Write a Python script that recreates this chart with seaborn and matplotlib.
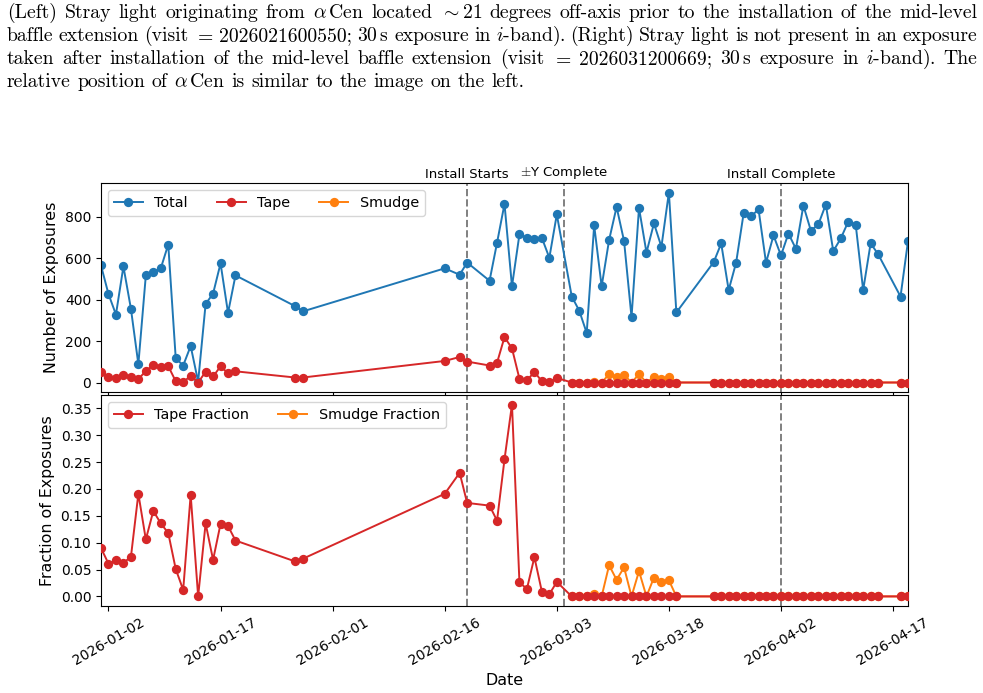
import matplotlib
matplotlib.use("Agg")
import matplotlib.pyplot as plt
import matplotlib.dates as mdates
from matplotlib.ticker import MultipleLocator
import pandas as pd
import seaborn as sns

# observation days per month (2026)
jan_days = [1, 2, 3, 4, 5, 6, 7, 8, 9, 10, 11, 12, 13, 14, 15, 16, 17, 18, 19, 27, 28]
feb_days = [16, 18, 19, 22, 23, 24, 25, 26, 27, 28]
mar_days = [1, 2, 3, 5, 6, 7, 8, 9, 10, 11, 12, 13, 14, 15, 16, 17, 18, 19,
            24, 25, 26, 27, 28, 29, 30, 31]
apr_days = [1, 2, 3, 4, 5, 6, 7, 8, 9, 10, 11, 12, 13, 14, 15, 18, 19]

total_exp = [565, 427, 328, 560, 357, 88, 517, 533, 551, 666, 117, 82, 176, 4, 379, 429, 575, 336, 517, 368, 343,
             551, 520, 579, 491, 674, 862, 464, 715, 698, 694,
             698, 602, 811, 415, 347, 239, 758, 464, 688, 847, 683, 315, 843, 627, 768, 655, 917, 338,
             581, 671, 446, 579, 816, 803, 835, 578,
             710, 613, 719, 645, 854, 733, 763, 859, 634, 695, 776, 762, 446, 672, 619, 415, 682]

tape_exp = [51, 26, 22, 35, 26, 17, 55, 85, 75, 79, 6, 1, 33, 0, 52, 29, 78, 44, 54, 24, 24,
            104, 123, 101, 82, 95, 219, 165, 18, 10, 51,
            6, 2, 22, 0, 0, 0, 0, 0, 0, 0, 0, 0, 0, 0, 0, 0, 0, 0,
            0, 0, 0, 0, 0, 0, 0, 0,
            0, 0, 0, 0, 0, 0, 0, 0, 0, 0, 0, 0, 0, 0, 0, 0, 0]

tape_frac = [0.090, 0.061, 0.067, 0.063, 0.073, 0.191, 0.106, 0.159, 0.136, 0.118, 0.051, 0.012, 0.189,
             0.000, 0.136, 0.068, 0.135, 0.131, 0.104, 0.065, 0.070,
             0.191, 0.230, 0.174, 0.169, 0.141, 0.255, 0.357, 0.026, 0.014, 0.073,
             0.009, 0.004, 0.027, 0, 0, 0, 0, 0, 0, 0, 0, 0, 0, 0, 0, 0, 0, 0,
             0, 0, 0, 0, 0, 0, 0, 0,
             0, 0, 0, 0, 0, 0, 0, 0, 0, 0, 0, 0, 0, 0, 0, 0, 0]

# smudge is only tracked from 2026-03-05 on (last 40 observation days)
smudge_exp = [0, 0, 0, 3, 0, 40, 26, 37, 0, 40, 0, 27, 18, 28, 0,
              0, 0, 0, 0, 0, 0, 0, 0,
              0, 0, 0, 0, 0, 0, 0, 0, 0, 0, 0, 0, 0, 0, 0, 0, 0]
smudge_frac = [0, 0, 0, 0.004, 0, 0.058, 0.031, 0.054, 0, 0.047, 0, 0.035, 0.027, 0.030, 0,
               0, 0, 0, 0, 0, 0, 0, 0,
               0, 0, 0, 0, 0, 0, 0, 0, 0, 0, 0, 0, 0, 0, 0, 0, 0]

events = {"Install Starts": "2026-02-19",
          r"$\pm$Y Complete": "2026-03-04",
          "Install Complete": "2026-04-02"}

caption = [
    r"(Left) Stray light originating from $\alpha\,$Cen located $\sim$21 degrees off-axis prior to the installation of the mid-level",
    r"baffle extension (visit $=$ 2026021600550; 30$\,$s exposure in $i$-band). (Right) Stray light is not present in an exposure",
    r"taken after installation of the mid-level baffle extension (visit $=$ 2026031200669; 30$\,$s exposure in $i$-band). The",
    r"relative position of $\alpha\,$Cen is similar to the image on the left.",
]

dates = ([f"2026-01-{d:02d}" for d in jan_days] + [f"2026-02-{d:02d}" for d in feb_days]
         + [f"2026-03-{d:02d}" for d in mar_days] + [f"2026-04-{d:02d}" for d in apr_days])
df = pd.DataFrame({"date": pd.to_datetime(dates), "total": total_exp,
                   "tape": tape_exp, "tape_frac": tape_frac})
df_s = df.iloc[-len(smudge_exp):].copy()
df_s["smudge"] = smudge_exp
df_s["smudge_frac"] = smudge_frac

plt.rcParams["mathtext.fontset"] = "cm"

W, H = 983, 693
fig = plt.figure(figsize=(W / 100, H / 100), dpi=100)
ax1 = fig.add_axes([101 / W, 1 - 392 / H, 807 / W, 209 / H])
ax2 = fig.add_axes([101 / W, 1 - 606 / H, 807 / W, 211 / H], sharex=ax1)

blue, red, orange = "#1f77b4", "#d62728", "#ff7f0e"
kw = dict(marker="o", markersize=6.7, markeredgewidth=0, linewidth=1.4)

sns.lineplot(data=df, x="date", y="total", color=blue, label="Total", ax=ax1, **kw)
sns.lineplot(data=df, x="date", y="tape", color=red, label="Tape", ax=ax1, zorder=3, **kw)
sns.lineplot(data=df_s, x="date", y="smudge", color=orange, label="Smudge", ax=ax1, zorder=2, **kw)

sns.lineplot(data=df, x="date", y="tape_frac", color=red, label="Tape Fraction", ax=ax2, zorder=3, **kw)
sns.lineplot(data=df_s, x="date", y="smudge_frac", color=orange, label="Smudge Fraction", ax=ax2, zorder=2, **kw)

for name, d in events.items():
    for ax in (ax1, ax2):
        ax.axvline(pd.Timestamp(d), color="gray", linestyle="--", linewidth=1.4, zorder=1)
    ax1.text(pd.Timestamp(d), 1.01, name, transform=ax1.get_xaxis_transform(),
             ha="center", va="bottom", fontsize=9.5)

ax1.set_xlim(df["date"].min(), df["date"].max())
ax2.set_xticks(pd.date_range("2026-01-02", "2026-04-17", freq="15D"))
ax2.xaxis.set_major_formatter(mdates.DateFormatter("%Y-%m-%d"))
ax2.yaxis.set_major_locator(MultipleLocator(0.05))
ax1.yaxis.set_major_locator(MultipleLocator(200))
plt.setp(ax1.get_xticklabels(), visible=False)
plt.setp(ax2.get_xticklabels(), rotation=30, ha="center")

ax1.set_xlabel("")
ax1.set_ylabel("Number of Exposures", fontsize=11.4)
ax2.set_ylabel("Fraction of Exposures", fontsize=11.4)
ax2.set_xlabel("Date", fontsize=11.4)
for ax in (ax1, ax2):
    ax.tick_params(labelsize=10)

ax1.legend(loc="upper left", ncol=3, fontsize=10.4)
ax2.legend(loc="upper left", ncol=2, fontsize=10.4)

# justified caption above the plot
cap_size = 14.2
x0, x1 = 7, 977
renderer = fig.canvas.get_renderer()
for i, line in enumerate(caption):
    y = 1 - (18 + 23 * i) / H
    words = line.split(" ")
    texts = [fig.text(0, y, w, fontsize=cap_size, family="cmr10", va="baseline") for w in words]
    widths = [t.get_window_extent(renderer).width for t in texts]
    if i < len(caption) - 1:
        gap = (x1 - x0 - sum(widths)) / (len(words) - 1)
    else:
        gap = 0.333 * cap_size * 100 / 72
    x = x0
    for t, w in zip(texts, widths):
        t.set_x(x / W)
        x += w + gap

fig.savefig("out.png", dpi=100)
